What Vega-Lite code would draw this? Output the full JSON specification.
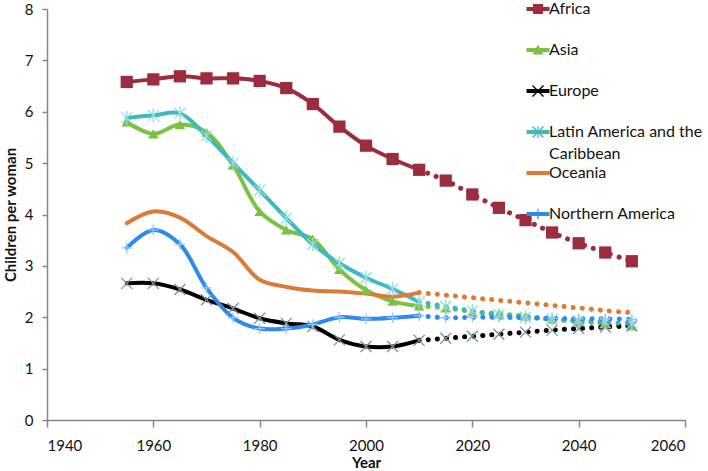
{
  "$schema": "https://vega.github.io/schema/vega-lite/v6.json",
  "width": 638,
  "height": 411,
  "autosize": "none",
  "padding": {"left": 47, "top": 9, "right": 23, "bottom": 51},
  "background": "white",
  "config": {
    "view": {"stroke": null},
    "font": "Lato",
    "axis": {
      "grid": false,
      "domainColor": "#868686",
      "tickColor": "#868686",
      "domainWidth": 1.5,
      "tickWidth": 1.5,
      "labelFont": "Lato",
      "labelFontSize": 15,
      "labelColor": "#111111",
      "titleFont": "Lato",
      "titleFontSize": 15,
      "titleFontWeight": "bold",
      "titleColor": "#111111"
    }
  },
  "data": {
    "values": [
      {"region": "Africa", "year": 1955, "value": 6.58},
      {"region": "Africa", "year": 1960, "value": 6.63},
      {"region": "Africa", "year": 1965, "value": 6.69},
      {"region": "Africa", "year": 1970, "value": 6.65},
      {"region": "Africa", "year": 1975, "value": 6.65},
      {"region": "Africa", "year": 1980, "value": 6.60},
      {"region": "Africa", "year": 1985, "value": 6.46},
      {"region": "Africa", "year": 1990, "value": 6.15},
      {"region": "Africa", "year": 1995, "value": 5.71},
      {"region": "Africa", "year": 2000, "value": 5.34},
      {"region": "Africa", "year": 2005, "value": 5.08},
      {"region": "Africa", "year": 2010, "value": 4.87},
      {"region": "Africa", "year": 2015, "value": 4.66},
      {"region": "Africa", "year": 2020, "value": 4.39},
      {"region": "Africa", "year": 2025, "value": 4.13},
      {"region": "Africa", "year": 2030, "value": 3.89},
      {"region": "Africa", "year": 2035, "value": 3.65},
      {"region": "Africa", "year": 2040, "value": 3.44},
      {"region": "Africa", "year": 2045, "value": 3.26},
      {"region": "Africa", "year": 2050, "value": 3.09},
      {"region": "Asia", "year": 1955, "value": 5.80},
      {"region": "Asia", "year": 1960, "value": 5.57},
      {"region": "Asia", "year": 1965, "value": 5.75},
      {"region": "Asia", "year": 1970, "value": 5.60},
      {"region": "Asia", "year": 1975, "value": 4.96},
      {"region": "Asia", "year": 1980, "value": 4.06},
      {"region": "Asia", "year": 1985, "value": 3.70},
      {"region": "Asia", "year": 1990, "value": 3.52},
      {"region": "Asia", "year": 1995, "value": 2.93},
      {"region": "Asia", "year": 2000, "value": 2.53},
      {"region": "Asia", "year": 2005, "value": 2.31},
      {"region": "Asia", "year": 2010, "value": 2.22},
      {"region": "Asia", "year": 2015, "value": 2.18},
      {"region": "Asia", "year": 2020, "value": 2.11},
      {"region": "Asia", "year": 2025, "value": 2.07},
      {"region": "Asia", "year": 2030, "value": 2.02},
      {"region": "Asia", "year": 2035, "value": 1.96},
      {"region": "Asia", "year": 2040, "value": 1.92},
      {"region": "Asia", "year": 2045, "value": 1.87},
      {"region": "Asia", "year": 2050, "value": 1.83},
      {"region": "Europe", "year": 1955, "value": 2.66},
      {"region": "Europe", "year": 1960, "value": 2.66},
      {"region": "Europe", "year": 1965, "value": 2.54},
      {"region": "Europe", "year": 1970, "value": 2.34},
      {"region": "Europe", "year": 1975, "value": 2.17},
      {"region": "Europe", "year": 1980, "value": 1.98},
      {"region": "Europe", "year": 1985, "value": 1.88},
      {"region": "Europe", "year": 1990, "value": 1.82},
      {"region": "Europe", "year": 1995, "value": 1.56},
      {"region": "Europe", "year": 2000, "value": 1.43},
      {"region": "Europe", "year": 2005, "value": 1.43},
      {"region": "Europe", "year": 2010, "value": 1.55},
      {"region": "Europe", "year": 2015, "value": 1.59},
      {"region": "Europe", "year": 2020, "value": 1.63},
      {"region": "Europe", "year": 2025, "value": 1.67},
      {"region": "Europe", "year": 2030, "value": 1.71},
      {"region": "Europe", "year": 2035, "value": 1.75},
      {"region": "Europe", "year": 2040, "value": 1.78},
      {"region": "Europe", "year": 2045, "value": 1.81},
      {"region": "Europe", "year": 2050, "value": 1.83},
      {"region": "Latin America and the Caribbean", "year": 1955, "value": 5.88},
      {"region": "Latin America and the Caribbean", "year": 1960, "value": 5.93},
      {"region": "Latin America and the Caribbean", "year": 1965, "value": 5.97},
      {"region": "Latin America and the Caribbean", "year": 1970, "value": 5.53},
      {"region": "Latin America and the Caribbean", "year": 1975, "value": 5.00},
      {"region": "Latin America and the Caribbean", "year": 1980, "value": 4.47},
      {"region": "Latin America and the Caribbean", "year": 1985, "value": 3.93},
      {"region": "Latin America and the Caribbean", "year": 1990, "value": 3.42},
      {"region": "Latin America and the Caribbean", "year": 1995, "value": 3.05},
      {"region": "Latin America and the Caribbean", "year": 2000, "value": 2.77},
      {"region": "Latin America and the Caribbean", "year": 2005, "value": 2.55},
      {"region": "Latin America and the Caribbean", "year": 2010, "value": 2.30},
      {"region": "Latin America and the Caribbean", "year": 2015, "value": 2.21},
      {"region": "Latin America and the Caribbean", "year": 2020, "value": 2.12},
      {"region": "Latin America and the Caribbean", "year": 2025, "value": 2.05},
      {"region": "Latin America and the Caribbean", "year": 2030, "value": 2.00},
      {"region": "Latin America and the Caribbean", "year": 2035, "value": 1.96},
      {"region": "Latin America and the Caribbean", "year": 2040, "value": 1.93},
      {"region": "Latin America and the Caribbean", "year": 2045, "value": 1.90},
      {"region": "Latin America and the Caribbean", "year": 2050, "value": 1.88},
      {"region": "Oceania", "year": 1955, "value": 3.83},
      {"region": "Oceania", "year": 1960, "value": 4.06},
      {"region": "Oceania", "year": 1965, "value": 3.94},
      {"region": "Oceania", "year": 1970, "value": 3.58},
      {"region": "Oceania", "year": 1975, "value": 3.27},
      {"region": "Oceania", "year": 1980, "value": 2.73},
      {"region": "Oceania", "year": 1985, "value": 2.59},
      {"region": "Oceania", "year": 1990, "value": 2.52},
      {"region": "Oceania", "year": 1995, "value": 2.50},
      {"region": "Oceania", "year": 2000, "value": 2.46},
      {"region": "Oceania", "year": 2005, "value": 2.40},
      {"region": "Oceania", "year": 2010, "value": 2.48},
      {"region": "Oceania", "year": 2015, "value": 2.43},
      {"region": "Oceania", "year": 2020, "value": 2.38},
      {"region": "Oceania", "year": 2025, "value": 2.33},
      {"region": "Oceania", "year": 2030, "value": 2.28},
      {"region": "Oceania", "year": 2035, "value": 2.23},
      {"region": "Oceania", "year": 2040, "value": 2.18},
      {"region": "Oceania", "year": 2045, "value": 2.13},
      {"region": "Oceania", "year": 2050, "value": 2.09},
      {"region": "Northern America", "year": 1955, "value": 3.35},
      {"region": "Northern America", "year": 1960, "value": 3.70},
      {"region": "Northern America", "year": 1965, "value": 3.42},
      {"region": "Northern America", "year": 1970, "value": 2.57},
      {"region": "Northern America", "year": 1975, "value": 1.99},
      {"region": "Northern America", "year": 1980, "value": 1.78},
      {"region": "Northern America", "year": 1985, "value": 1.78},
      {"region": "Northern America", "year": 1990, "value": 1.86},
      {"region": "Northern America", "year": 1995, "value": 2.00},
      {"region": "Northern America", "year": 2000, "value": 1.97},
      {"region": "Northern America", "year": 2005, "value": 1.99},
      {"region": "Northern America", "year": 2010, "value": 2.03},
      {"region": "Northern America", "year": 2015, "value": 1.99},
      {"region": "Northern America", "year": 2020, "value": 2.00},
      {"region": "Northern America", "year": 2025, "value": 2.00},
      {"region": "Northern America", "year": 2030, "value": 1.99},
      {"region": "Northern America", "year": 2035, "value": 1.98},
      {"region": "Northern America", "year": 2040, "value": 1.97},
      {"region": "Northern America", "year": 2045, "value": 1.97},
      {"region": "Northern America", "year": 2050, "value": 1.96}
    ]
  },
  "encoding": {
    "x": {
      "field": "year",
      "type": "quantitative",
      "scale": {"domain": [1940, 2060], "nice": false, "zero": false},
      "axis": {
        "title": "Year",
        "values": [1940, 1960, 1980, 2000, 2020, 2040, 2060],
        "format": "d",
        "tickSize": 7,
        "labelPadding": 11,
        "titlePadding": 2
      }
    },
    "y": {
      "field": "value",
      "type": "quantitative",
      "scale": {"domain": [0, 8], "nice": false},
      "axis": {
        "title": "Children per woman",
        "values": [0, 1, 2, 3, 4, 5, 6, 7, 8],
        "tickSize": 5,
        "labelPadding": 9,
        "titlePadding": 6
      }
    }
  },
  "layer": [
    {
      "transform": [{"filter": "datum.year <= 2010"}],
      "mark": {"type": "line", "interpolate": "catmull-rom", "strokeWidth": 4, "strokeCap": "round"},
      "encoding": {
        "color": {
          "field": "region",
          "type": "nominal",
          "scale": {
            "domain": ["Africa", "Asia", "Europe", "Latin America and the Caribbean", "Oceania", "Northern America"],
            "range": ["#9B2D3F", "#7CC242", "#000000", "#3FB8C0", "#DD7A36", "#2F8AF0"]
          },
          "legend": {
            "orient": "none",
            "legendX": 483,
            "legendY": -8,
            "title": null,
            "padding": 0,
            "symbolSize": 100,
            "labelOffset": 3,
            "labelFont": "Lato",
            "labelFontSize": 16,
            "labelColor": "#111111",
            "labelLimit": 300,
            "rowPadding": 3,
            "labelExpr": "datum.label == 'Latin America and the Caribbean' ? ['Latin America and the', 'Caribbean'] : [datum.label, '']",
            "encode": {
              "labels": {"update": {"lineHeight": {"value": 22}}},
              "symbols": {
                "update": {
                  "shape": {"signal": "datum.value == 'Africa' ? 'M-2.3,-0.4H2.3V0.4H-2.3Z M-1,-1H1V1H-1Z' : datum.value == 'Asia' ? 'M-2.3,-0.4H2.3V0.4H-2.3Z M0,-1.1L1.1,0.9L-1.1,0.9Z' : datum.value == 'Europe' ? 'M-2.3,-0.4H2.3V0.4H-2.3Z M-1,-1.2L1.2,1L1,1.2L-1.2,-1Z M1,-1.2L1.2,-1L-1,1.2L-1.2,1Z' : datum.value == 'Latin America and the Caribbean' ? 'M-2.3,-0.4H2.3V0.4H-2.3Z M-1,-1.2L1.2,1L1,1.2L-1.2,-1Z M1,-1.2L1.2,-1L-1,1.2L-1.2,1Z M-0.12,-1.2H0.12V1.2H-0.12Z' : datum.value == 'Northern America' ? 'M-2.3,-0.4H2.3V0.4H-2.3Z M-0.12,-1H0.12V1H-0.12Z' : 'M-2.3,-0.4H2.3V0.4H-2.3Z'"},
                  "fill": {"scale": "color", "field": "value"},
                  "stroke": {"value": "transparent"},
                  "strokeWidth": {"value": 0},
                  "size": {"value": 100},
                  "opacity": {"value": 1}
                }
              }
            }
          }
        }
      }
    },
    {
      "transform": [{"filter": "datum.year >= 2010"}],
      "mark": {"type": "line", "interpolate": "catmull-rom", "strokeWidth": 5, "strokeCap": "round", "strokeDash": [0.1, 9]},
      "encoding": {
        "color": {"field": "region", "type": "nominal", "legend": null}
      }
    },
    {
      "transform": [{"filter": "datum.region == 'Africa'"}],
      "mark": {"type": "point", "shape": "square", "filled": true, "size": 150, "color": "#9B2D3F", "opacity": 1}
    },
    {
      "transform": [{"filter": "datum.region == 'Asia'"}],
      "mark": {"type": "point", "shape": "triangle-up", "filled": true, "size": 110, "color": "#7CC242", "opacity": 1}
    },
    {
      "transform": [{"filter": "datum.region == 'Europe'"}],
      "mark": {"type": "point", "shape": "M-1,-1L1,1M-1,1L1,-1", "filled": false, "size": 121, "stroke": "#7F8FA0", "strokeWidth": 1.3, "opacity": 1}
    },
    {
      "transform": [{"filter": "datum.region == 'Latin America and the Caribbean'"}],
      "mark": {"type": "point", "shape": "M-1,-1L1,1M-1,1L1,-1M0,-1.3L0,1.3", "filled": false, "size": 121, "stroke": "#8FDDE6", "strokeWidth": 1.3, "opacity": 1}
    },
    {
      "transform": [{"filter": "datum.region == 'Northern America'"}],
      "mark": {"type": "point", "shape": "M-1,0L1,0M0,-1L0,1", "filled": false, "size": 110, "stroke": "#8CC8F5", "strokeWidth": 1.3, "opacity": 1}
    }
  ]
}
